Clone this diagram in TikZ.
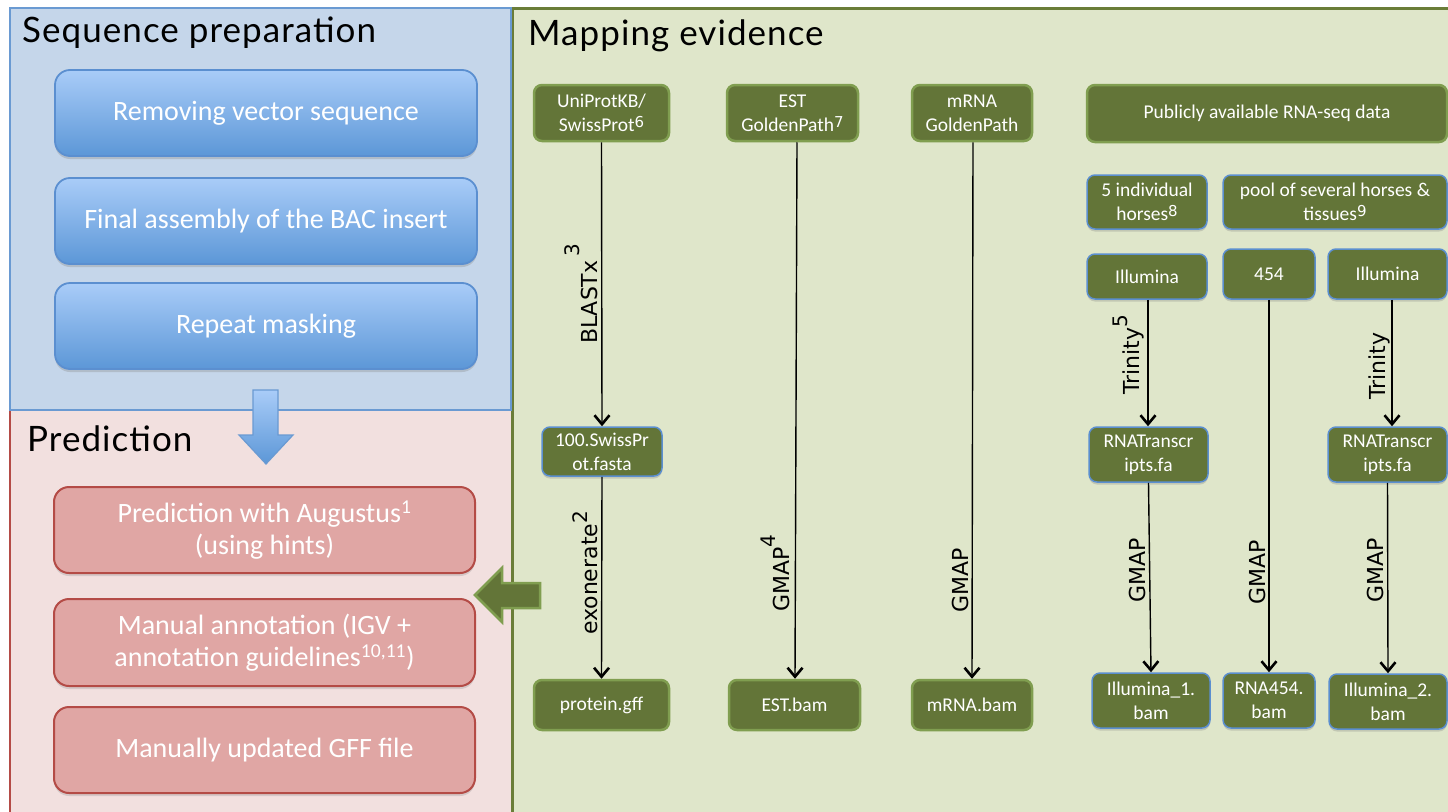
\documentclass[tikz,border=0pt]{standalone}
\usepackage{fontspec}
\setmainfont{Carlito}
\newfontfamily\titlefont[LetterSpace=3]{Lato}
\newfontfamily\labfont{DejaVu Sans}
\usetikzlibrary{arrows.meta,shadows}
\newcommand\gsup[1]{\raisebox{4pt}{\labfont\fontsize{15}{15}\selectfont #1}}
\newcommand\lsup[2][13pt]{\raisebox{#1}{\fontsize{20}{20}\selectfont #2}}
\definecolor{bluepanel}{HTML}{C5D6EA}
\definecolor{blueborder}{HTML}{6A9AD2}
\definecolor{redpanel}{HTML}{F2E0DF}
\definecolor{redborder}{HTML}{B44B46}
\definecolor{greenpanel}{HTML}{DFE6CA}
\definecolor{greenborder}{HTML}{6A7D38}
\definecolor{boxtop}{HTML}{A9CCF8}
\definecolor{boxbot}{HTML}{5C97D7}
\definecolor{redbox}{HTML}{E0A6A4}
\definecolor{gfill}{HTML}{637538}
\definecolor{gline}{HTML}{809E50}
\definecolor{bline}{HTML}{5B8FD0}
\tikzset{
  panelttl/.style={anchor=base west, inner sep=0, font=\titlefont\fontsize{35}{38}\selectfont, text=black},
  seqbox/.style={rectangle, rounded corners=15, draw=bline, line width=1.8, top color=boxtop, bottom color=boxbot,
     minimum width=422, minimum height=86, inner sep=0, text=white, align=center,
     font=\fontsize{28}{32}\selectfont, drop shadow={shadow xshift=0pt, shadow yshift=-3pt, opacity=0.3}},
  predbox/.style={rectangle, rounded corners=15, draw=redborder, line width=2, fill=redbox,
     minimum width=421, minimum height=86, inner sep=0, text=white, align=center,
     font=\fontsize{28}{32}\selectfont, drop shadow={shadow xshift=0pt, shadow yshift=-3pt, opacity=0.25}},
  gbox/.style={rectangle, rounded corners=8, draw=gline, line width=2.5, fill=gfill, inner sep=0,
     text=white, align=center, font=\fontsize{19.5}{24}\selectfont},
  bbox/.style={rectangle, rounded corners=8, draw=bline, line width=1.5, fill=gfill, inner sep=0,
     text=white, align=center, font=\fontsize{19.5}{24}\selectfont,
     drop shadow={shadow xshift=0pt, shadow yshift=-2.5pt, opacity=0.3}},
  flow/.style={draw=black, line width=1.4, -{Straight Barb[length=9pt,width=15pt,line width=2.6pt]}},
  lab/.style={anchor=base, rotate=90, inner sep=0, font=\labfont\fontsize{22}{24}\selectfont, text=black}
}
\begin{document}
\begin{tikzpicture}[x=1pt,y=-1pt]
\useasboundingbox (0,0) rectangle (1448,811);
\fill[white] (0,0) rectangle (1448,811);
% panels
\fill[redpanel] (10,410) rectangle (511,830);
\draw[redborder, line width=2] (10,830) -- (10,410) -- (511,410);
\fill[greenpanel] (512,8) rectangle (1460,830);
\draw[greenborder, line width=3] (512,830) -- (512,8) -- (1460,8);
\fill[bluepanel] (10,8) rectangle (511,410);
\draw[blueborder, line width=2.2] (10,8) rectangle (511,410);
% titles
\node[panelttl] (t1) at (22,42) {Sequence preparation};
\node[panelttl] (t2) at (27,451) {Prediction};
\node[panelttl] (t3) at (528,45) {Mapping evidence};
% sequence preparation
\node[seqbox] (s1) at (266,113) {Removing vector sequence};
\node[seqbox] (s2) at (266,221) {Final assembly of the BAC insert};
\node[seqbox] (s3) at (266,326) {Repeat masking};
% blue down arrow
\path[top color=boxtop, bottom color=boxbot, draw=blueborder, line width=1.2]
  (253,390) -- (278,390) -- (278,435) -- (293,435) -- (266,464) -- (239,435) -- (253,435) -- cycle;
% prediction boxes
\node[predbox] (p1) at (264.5,530) {Prediction with Augustus\textsuperscript{1}\\(using hints)};
\node[predbox, minimum height=87] (p2) at (264.5,642.5) {Manual annotation (IGV +\\annotation guidelines\textsuperscript{10,11})};
\node[predbox] (p3) at (264.5,750) {Manually updated GFF file};
% green left arrow
\path[fill=gfill, draw=gline, line width=2.5]
  (540,583) -- (502,583) -- (502,568) -- (475,595) -- (502,622) -- (502,608) -- (540,608) -- cycle;
% mapping evidence boxes
\node[gbox, minimum width=135, minimum height=56] (uni) at (601.5,113) {UniProtKB/\\SwissProt\gsup{6}};
\node[gbox, minimum width=131, minimum height=56] (est) at (792.5,113) {EST\\GoldenPath\gsup{7}};
\node[gbox, minimum width=120, minimum height=56] (mrna) at (972,113) {mRNA\\GoldenPath};
\node[gbox, minimum width=360, minimum height=57] (pub) at (1267,113.5) {Publicly available RNA-seq data};
\node[bbox, minimum width=120, minimum height=54] (ind) at (1147,202) {5 individual\\horses\gsup{8}};
\node[bbox, minimum width=224, minimum height=54] (pool) at (1335,202) {pool of several horses \&\\tissues\gsup{9}};
\node[bbox, minimum width=120, minimum height=45] (ill1) at (1147,276.5) {Illumina};
\node[bbox, minimum width=92, minimum height=50] (n454) at (1269,274) {454};
\node[bbox, minimum width=119, minimum height=50] (ill2) at (1387.5,274) {Illumina};
\node[bbox, minimum width=120, minimum height=49] (swiss) at (602,451.5) {100.SwissPr\\ot.fasta};
\node[bbox, minimum width=119, minimum height=55] (rt1) at (1148.5,454.5) {RNATranscr\\ipts.fa};
\node[bbox, minimum width=119, minimum height=55] (rt2) at (1387.5,454.5) {RNATranscr\\ipts.fa};
\node[gbox, minimum width=135, minimum height=50] (prot) at (601.5,705) {protein.gff};
\node[gbox, minimum width=131, minimum height=50] (estbam) at (794.5,705) {EST.bam};
\node[gbox, minimum width=120, minimum height=50] (mrnabam) at (972,705) {mRNA.bam};
\node[bbox, minimum width=118, minimum height=55] (ib1) at (1151,700.5) {Illumina\_1.\\bam};
\node[bbox, minimum width=92, minimum height=55] (r454) at (1269,700.5) {RNA454.\\bam};
\node[bbox, minimum width=118, minimum height=55] (ib2) at (1388,701.5) {Illumina\_2.\\bam};
% connectors
\draw[flow] (uni.south) -- (swiss.north);
\draw[flow] (swiss.south) -- (prot.north);
\draw[flow] ([xshift=4.5]est.south) -- ([xshift=0.5]estbam.north);
\draw[flow] ([xshift=1]mrna.south) -- (mrnabam.north);
\draw[flow] ([xshift=1]ill1.south) -- ([xshift=-0.5]rt1.north);
\draw[flow] (rt1.south) -- (ib1.north);
\draw[flow] (n454.south) -- (r454.north);
\draw[flow] ([xshift=4.5]ill2.south) -- ([xshift=4.5]rt2.north);
\draw[flow] (rt2.south) -- (ib2.north);
% connector labels
\node[lab] (l1) at (597,294) {BLASTx\,\lsup[18pt]{3}};
\node[lab] (l2) at (597,573) {exonerate\lsup[10pt]{2}};
\node[lab] (l3) at (789,573) {GMAP\lsup[14pt]{4}};
\node[lab] (l4) at (968,580) {GMAP};
\node[lab] (l5) at (1139,355) {Trinity\lsup[12pt]{5}};
\node[lab] (l6) at (1145,570) {GMAP};
\node[lab] (l7) at (1265,572) {GMAP};
\node[lab] (l8) at (1385,366) {Trinity};
\node[lab] (l9) at (1383,570) {GMAP};
\end{tikzpicture}
\end{document}
